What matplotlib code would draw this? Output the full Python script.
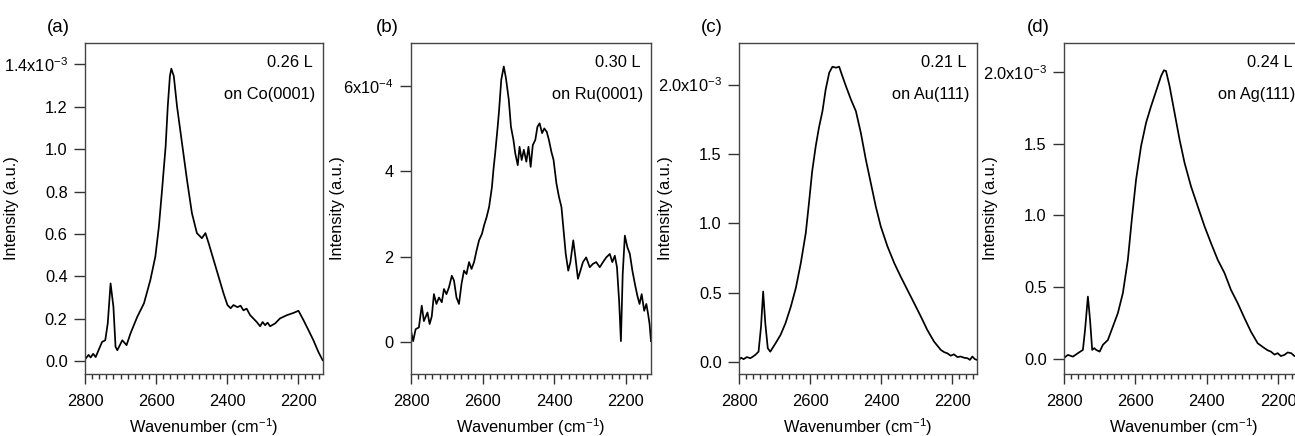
import numpy as np
import matplotlib.pyplot as plt
from matplotlib.ticker import MultipleLocator, FixedLocator

plt.rcParams['font.family'] = ['Liberation Sans', 'DejaVu Sans']
plt.rcParams['mathtext.fontset'] = 'custom'
plt.rcParams['mathtext.rm'] = 'Liberation Sans'
plt.rcParams['mathtext.default'] = 'regular'

# ---- data (intensity in the panel's own units) ----
wn_a = [2798, 2790, 2784, 2777, 2770, 2752, 2743, 2736, 2728, 2720, 2714, 2709,
        2695, 2683, 2672, 2653, 2634, 2616, 2602, 2592, 2583, 2573, 2567, 2561,
        2557, 2550, 2541, 2527, 2513, 2499, 2485, 2471, 2461, 2452, 2438, 2424,
        2410, 2399, 2390, 2382, 2371, 2362, 2354, 2345, 2335, 2317, 2307, 2300,
        2293, 2286, 2279, 2265, 2251, 2232, 2213, 2199, 2185, 2171, 2157, 2143,
        2131]
int_a = [0.013, 0.030, 0.018, 0.035, 0.020, 0.091, 0.099, 0.178, 0.367, 0.257,
         0.068, 0.052, 0.099, 0.076, 0.131, 0.209, 0.273, 0.383, 0.493, 0.635,
         0.809, 1.013, 1.202, 1.344, 1.379, 1.344, 1.202, 1.029, 0.856, 0.698,
         0.604, 0.580, 0.604, 0.557, 0.478, 0.399, 0.320, 0.265, 0.250, 0.265,
         0.255, 0.262, 0.240, 0.248, 0.217, 0.186, 0.165, 0.185, 0.170, 0.182,
         0.165, 0.178, 0.202, 0.217, 0.228, 0.238, 0.194, 0.147, 0.099, 0.044,
         0.005]

wn_b = [2800, 2794, 2787, 2778, 2770, 2764, 2754, 2748, 2742, 2736, 2729, 2722,
        2714, 2708, 2701, 2694, 2686, 2680, 2673, 2666, 2659, 2652, 2645, 2638,
        2631, 2624, 2617, 2610, 2602, 2596, 2589, 2582, 2574, 2570, 2565, 2558,
        2554, 2548, 2541, 2535, 2527, 2521, 2514, 2509, 2502, 2497, 2491, 2485,
        2478, 2472, 2466, 2460, 2453, 2447, 2441, 2434, 2428, 2421, 2415, 2408,
        2402, 2394, 2387, 2380, 2374, 2368, 2361, 2355, 2347, 2341, 2334, 2327,
        2320, 2311, 2301, 2292, 2283, 2273, 2264, 2255, 2245, 2238, 2231, 2225,
        2219, 2214, 2209, 2203, 2196, 2189, 2182, 2175, 2168, 2162, 2156, 2149,
        2143, 2138, 2134, 2130]
int_b = [0.26, 0.02, 0.30, 0.34, 0.85, 0.49, 0.69, 0.42, 0.60, 1.12, 0.89, 1.04,
         0.93, 1.24, 1.12, 1.28, 1.55, 1.44, 1.04, 0.89, 1.36, 1.67, 1.59, 1.87,
         1.71, 1.87, 2.14, 2.38, 2.53, 2.73, 2.92, 3.16, 3.63, 4.02, 4.42, 5.04,
         5.44, 6.14, 6.45, 6.18, 5.67, 5.04, 4.73, 4.42, 4.14, 4.57, 4.26, 4.50,
         4.22, 4.57, 4.10, 4.61, 4.73, 5.04, 5.12, 4.89, 5.00, 4.92, 4.73, 4.45,
         4.26, 3.71, 3.40, 3.16, 2.61, 2.06, 1.67, 1.87, 2.38, 1.98, 1.48, 1.67,
         1.87, 1.98, 1.75, 1.83, 1.87, 1.75, 1.87, 1.98, 2.06, 1.87, 2.02, 1.75,
         0.96, 0.02, 1.59, 2.49, 2.22, 2.06, 1.67, 1.36, 1.08, 0.89, 1.12, 0.73,
         0.89, 0.65, 0.42, 0.02]

wn_c = [2801, 2794, 2787, 2778, 2768, 2760, 2754, 2745, 2738, 2732, 2726, 2719,
        2712, 2697, 2683, 2669, 2654, 2640, 2626, 2612, 2603, 2594, 2584, 2575,
        2565, 2556, 2546, 2537, 2527, 2518, 2509, 2499, 2485, 2471, 2457, 2443,
        2429, 2415, 2401, 2382, 2363, 2345, 2326, 2307, 2288, 2270, 2251, 2232,
        2222, 2214, 2204, 2195, 2185, 2176, 2166, 2157, 2150, 2143, 2136, 2129]
int_c = [0.014, 0.030, 0.020, 0.035, 0.027, 0.040, 0.051, 0.074, 0.255, 0.508,
         0.280, 0.099, 0.074, 0.135, 0.195, 0.280, 0.400, 0.533, 0.713, 0.930,
         1.147, 1.375, 1.556, 1.689, 1.809, 1.965, 2.086, 2.129, 2.122, 2.129,
         2.061, 1.989, 1.893, 1.809, 1.652, 1.460, 1.291, 1.122, 0.978, 0.833,
         0.713, 0.616, 0.520, 0.424, 0.327, 0.231, 0.147, 0.087, 0.070, 0.063,
         0.045, 0.055, 0.035, 0.039, 0.030, 0.027, 0.015, 0.039, 0.020, 0.014]

wn_d = [2801, 2789, 2775, 2761, 2747, 2741, 2733, 2727, 2721, 2715, 2710, 2700,
        2691, 2677, 2663, 2649, 2635, 2621, 2610, 2598, 2584, 2570, 2556, 2542,
        2528, 2520, 2514, 2504, 2490, 2476, 2462, 2444, 2425, 2406, 2388, 2369,
        2350, 2332, 2313, 2294, 2276, 2257, 2238, 2229, 2220, 2210, 2201, 2192,
        2182, 2173, 2163, 2154, 2145, 2135]
int_d = [0.005, 0.028, 0.016, 0.040, 0.063, 0.202, 0.434, 0.272, 0.063, 0.075,
         0.063, 0.051, 0.098, 0.132, 0.225, 0.319, 0.458, 0.690, 0.969, 1.248,
         1.481, 1.644, 1.759, 1.864, 1.969, 2.010, 2.005, 1.899, 1.713, 1.527,
         1.365, 1.202, 1.062, 0.923, 0.807, 0.690, 0.598, 0.481, 0.388, 0.284,
         0.190, 0.109, 0.075, 0.060, 0.051, 0.030, 0.040, 0.020, 0.028, 0.045,
         0.040, 0.020, 0.028, 0.030]

tags = ['(a)', '(b)', '(c)', '(d)']
doses = ['0.26 L', '0.30 L', '0.21 L', '0.24 L']
surfaces = ['on Co(0001)', 'on Ru(0001)', 'on Au(111)', 'on Ag(111)']
yticks = [[0.0, 0.2, 0.4, 0.6, 0.8, 1.0, 1.2, 1.4],
          [0, 2, 4, 6],
          [0.0, 0.5, 1.0, 1.5, 2.0],
          [0.0, 0.5, 1.0, 1.5, 2.0]]
yticklabels = [['0.0', '0.2', '0.4', '0.6', '0.8', '1.0', '1.2', '1.4x10$^{-3}$'],
               ['0', '2', '4', '6x10$^{-4}$'],
               ['0.0', '0.5', '1.0', '1.5', '2.0x10$^{-3}$'],
               ['0.0', '0.5', '1.0', '1.5', '2.0x10$^{-3}$']]
ylims = [(-0.06, 1.50), (-0.75, 7.0), (-0.087, 2.30), (-0.105, 2.20)]

W, H = 1295, 436
fig = plt.figure(figsize=(W / 100, H / 100), dpi=100)

# axes boxes in pixels: left, right
boxes = [(85, 323), (411, 651), (739, 977), (1064, 1303)]
tag_x = [58, 387, 712, 1038]
top, bottom = 43, 374

spectra = [(wn_a, int_a), (wn_b, int_b), (wn_c, int_c), (wn_d, int_d)]
fs = 11.8
for i, (wn, inten) in enumerate(spectra):
    l, r = boxes[i]
    ax = fig.add_axes([l / W, (H - bottom) / H, (r - l) / W, (bottom - top) / H])
    ax.plot(wn, inten, color='black', lw=1.25)
    ax.set_xlim(2800, 2130)
    ax.set_ylim(*ylims[i])
    ax.xaxis.set_major_locator(MultipleLocator(200))
    ax.xaxis.set_minor_locator(MultipleLocator(20))
    ax.yaxis.set_major_locator(FixedLocator(yticks[i]))
    ax.set_yticklabels(yticklabels[i])
    ax.tick_params(axis='y', which='major', direction='out', length=8,
                   width=1, color='#333333', labelsize=fs, pad=4.5)
    ax.tick_params(axis='x', which='major', direction='out', length=7.2,
                   width=1, color='#333333', labelsize=fs, pad=7.5)
    ax.tick_params(axis='x', which='minor', direction='out', length=3.6,
                   width=1, color='#333333')
    for sp in ax.spines.values():
        sp.set_color('#444444')
        sp.set_linewidth(1.0)
    ax.set_ylabel('Intensity (a.u.)', fontsize=fs)
    ax.yaxis.set_label_coords(-0.277, 0.5)
    ax.set_xlabel('Wavenumber (cm$^{-1}$)', fontsize=fs)
    ax.xaxis.set_label_coords(0.5, -0.16)
    ax.xaxis.label.set_va('center')
    ax.text(0.955, 0.94, doses[i], transform=ax.transAxes, ha='right',
            va='center', fontsize=fs)
    ax.text(0.968, 0.843, surfaces[i], transform=ax.transAxes, ha='right',
            va='center', fontsize=fs)
    fig.text(tag_x[i] / W, 1 - 27 / H, tags[i], ha='center', va='center',
             fontsize=13.5)

fig.savefig('out.png', dpi=100)
